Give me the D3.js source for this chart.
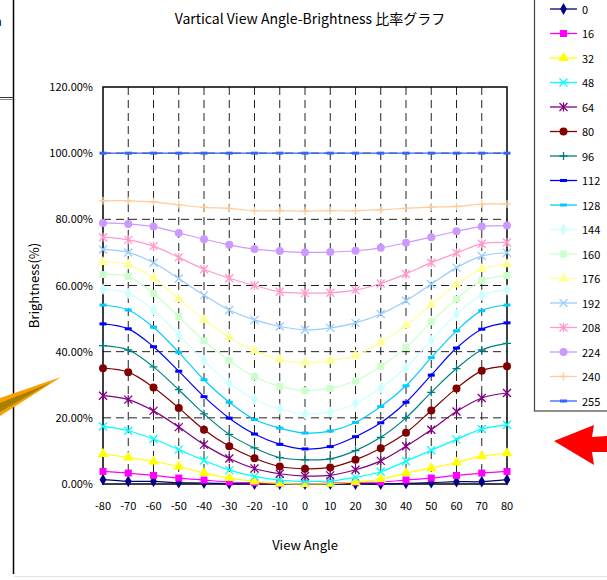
<!DOCTYPE html>
<html>
<head>
<meta charset="utf-8">
<script src="https://cdn.jsdelivr.net/npm/d3@7/dist/d3.min.js"></script>
<style>
  body { margin: 0; background: #fff; }
  svg { display: block; font-family: "Noto Sans CJK JP", "DejaVu Sans", sans-serif; }
</style>
</head>
<body>
<div id="chart"></div>
<script>
// view angles (x categories)
const angles = [-80, -70, -60, -50, -40, -30, -20, -10, 0, 10, 20, 30, 40, 50, 60, 70, 80];
const yTicks = [0, 20, 40, 60, 80, 100, 120];

// brightness ratio (%) per gray level
const g0   = [1.3, 0.8, 0.8, 0.4, 0.3, 0.1, 0, 0, 0, 0, 0, 0, 0.2, 0.4, 0.7, 0.7, 1.3];
const g16  = [3.8, 3.3, 2.6, 1.8, 1.2, 0.6, 0.4, 0.2, 0.1, 0.3, 0.5, 0.6, 1.2, 1.8, 2.6, 3.3, 3.8];
const g32  = [9.1, 8.0, 6.8, 5.3, 3.3, 1.8, 0.8, 0.2, 0, 0.1, 0.6, 1.5, 3.3, 4.8, 6.5, 8.4, 9.3];
const g48  = [17.4, 16.1, 13.6, 10.4, 7.1, 4.2, 2.3, 1.2, 0.8, 0.9, 2.0, 3.7, 6.9, 10.2, 13.5, 16.6, 17.9];
const g64  = [26.7, 25.5, 22.1, 17.2, 11.9, 7.7, 4.7, 3.1, 2.4, 2.6, 4.3, 7.0, 11.4, 16.4, 21.9, 26.0, 27.5];
const g80  = [35.0, 33.8, 29.2, 23.0, 16.4, 11.4, 7.8, 5.3, 4.6, 5.0, 7.3, 10.8, 15.5, 22.2, 28.9, 34.2, 35.6];
const g96  = [41.8, 40.5, 35.4, 28.5, 21.2, 15.0, 10.9, 8.0, 7.3, 7.6, 10.1, 14.1, 20.0, 27.7, 34.9, 40.5, 42.5];
const g112 = [48.4, 46.9, 41.5, 34.1, 26.4, 19.9, 15.1, 12.0, 10.6, 11.3, 14.3, 18.5, 24.7, 32.9, 41.1, 46.8, 48.7];
const g128 = [54.1, 52.6, 47.4, 39.8, 31.5, 24.7, 19.5, 16.9, 15.4, 16.0, 18.6, 23.4, 29.7, 38.2, 46.3, 52.4, 54.1];
const g144 = [58.9, 57.6, 52.6, 45.1, 37.3, 30.5, 25.6, 22.6, 21.2, 21.7, 24.4, 29.0, 35.2, 43.4, 51.4, 57.1, 58.7];
const g160 = [63.3, 62.7, 57.6, 50.6, 43.3, 37.3, 32.4, 29.5, 28.2, 28.9, 31.2, 35.6, 41.3, 49.0, 55.9, 61.5, 63.0];
const g176 = [67.1, 66.3, 62.3, 55.9, 49.6, 44.3, 40.3, 37.6, 36.7, 37.3, 38.8, 42.8, 47.9, 54.2, 60.3, 65.0, 66.4];
const g192 = [70.9, 70.0, 66.9, 62.1, 57.1, 52.6, 49.6, 47.6, 46.6, 47.2, 48.7, 51.4, 55.4, 60.4, 65.4, 68.9, 69.9];
const g208 = [74.6, 73.8, 71.9, 68.5, 64.9, 62.2, 60.0, 58.1, 57.7, 57.8, 58.6, 60.6, 63.5, 66.9, 69.8, 72.6, 73.0];
const g224 = [78.9, 78.6, 77.8, 75.9, 74.0, 72.3, 71.0, 70.4, 70.0, 70.1, 70.5, 71.4, 72.9, 74.6, 76.4, 77.8, 78.1];
const g240 = [85.6, 85.6, 85.3, 84.4, 83.6, 83.3, 82.6, 82.6, 82.5, 82.6, 82.6, 82.9, 83.3, 83.7, 83.9, 84.6, 84.6];
const g255 = [100, 100, 100, 100, 100, 100, 100, 100, 100, 100, 100, 100, 100, 100, 100, 100, 100];

const levels = ["0", "16", "32", "48", "64", "80", "96", "112", "128", "144", "160", "176", "192", "208", "224", "240", "255"];
const seriesValues = [g0, g16, g32, g48, g64, g80, g96, g112, g128, g144, g160, g176, g192, g208, g224, g240, g255];

const colors = ["#000080", "#ff00ff", "#ffff00", "#00ffff", "#800080", "#800000", "#008080", "#0000ff",
  "#00ccff", "#ccffff", "#ccffcc", "#ffff99", "#99ccff", "#ff99cc", "#cc99ff", "#ffcc99", "#3366ff"];
const markers = ["diamond", "square", "triangle", "x", "star", "circle", "plus", "dash",
  "dash", "diamond", "square", "triangle", "x", "star", "circle", "plus", "dash"];

const width = 607, height = 580;
const margin = { top: 87, left: 103, right: 100, bottom: 96 };

const svg = d3.select("#chart").append("svg")
  .attr("width", width)
  .attr("height", height);

const x = d3.scaleLinear().domain([-80, 80]).range([margin.left, width - margin.right]);
const y = d3.scaleLinear().domain([0, 120]).range([height - margin.bottom, margin.top]);

// ---- surrounding sheet decoration
svg.append("line").attr("x1", 13.5).attr("x2", 13.5).attr("y1", 0).attr("y2", 574)
  .attr("stroke", "#000").attr("stroke-width", 1.5);
svg.append("line").attr("x1", 0).attr("x2", 13).attr("y1", 97.5).attr("y2", 97.5)
  .attr("stroke", "#333").attr("stroke-width", 1);
svg.append("line").attr("x1", 0).attr("x2", 13).attr("y1", 99.5).attr("y2", 99.5)
  .attr("stroke", "#888").attr("stroke-width", 1);
svg.append("line").attr("x1", 14).attr("x2", width).attr("y1", 576.5).attr("y2", 576.5)
  .attr("stroke", "#e4e4e4");
// clipped cell text at the very left edge
svg.append("text").attr("x", -5).attr("y", 26).attr("font-size", 12).text("a");

// orange pointer on the left
svg.append("polygon").attr("points", "61,377 0,398 0,416").attr("fill", "#f7a000");
svg.append("polygon").attr("points", "50,383 0,403 0,412").attr("fill", "#a88000");

// red arrow on the right
svg.append("polygon")
  .attr("points", "554,441 594,425 592,437 607,436 607,452 592,452 594,465")
  .attr("fill", "#ff0000");

// ---- title
svg.append("text")
  .attr("x", 310).attr("y", 24)
  .attr("text-anchor", "middle")
  .attr("font-size", 14)
  .text("Vartical View Angle-Brightness 比率グラフ");

// ---- grid
const grid = svg.append("g");
grid.selectAll("line.v")
  .data(angles.filter(a => a > -80 && a < 80))
  .join("line")
  .attr("x1", d => x(d)).attr("x2", d => x(d))
  .attr("y1", y(120)).attr("y2", y(0))
  .attr("stroke", "#222").attr("stroke-dasharray", "8,5");
grid.selectAll("line.h")
  .data(yTicks.filter(t => t > 0 && t < 120))
  .join("line")
  .attr("x1", x(-80)).attr("x2", x(80))
  .attr("y1", d => y(d)).attr("y2", d => y(d))
  .attr("stroke", "#222").attr("stroke-dasharray", "8,5");

// frame
svg.append("rect")
  .attr("x", x(-80)).attr("y", y(120))
  .attr("width", x(80) - x(-80)).attr("height", y(0) - y(120))
  .attr("fill", "none").attr("stroke", "#000").attr("stroke-width", 1.5);

// ---- axes labels
svg.append("g").selectAll("text")
  .data(yTicks)
  .join("text")
  .attr("x", 93).attr("y", d => y(d) + 4)
  .attr("text-anchor", "end")
  .attr("font-size", 11)
  .text(d => d3.format(".2f")(d) + "%");

svg.append("g").selectAll("text")
  .data(angles)
  .join("text")
  .attr("x", d => x(d)).attr("y", 510)
  .attr("text-anchor", "middle")
  .attr("font-size", 11)
  .text(d => d < 0 ? "-" + Math.abs(d) : d);

svg.append("text")
  .attr("x", 305).attr("y", 550)
  .attr("text-anchor", "middle")
  .attr("font-size", 13)
  .text("View Angle");

svg.append("text")
  .attr("transform", `translate(39, ${(y(0) + y(120)) / 2}) rotate(-90)`)
  .attr("text-anchor", "middle")
  .attr("font-size", 13)
  .text("Brightness(%)");

// ---- series
function drawMarker(g, type, color) {
  if (type === "diamond") {
    g.append("path").attr("d", d3.symbol(d3.symbolDiamond, 40)()).attr("fill", color);
  } else if (type === "square") {
    g.append("rect").attr("x", -3.5).attr("y", -3.5).attr("width", 7).attr("height", 7).attr("fill", color);
  } else if (type === "triangle") {
    g.append("path").attr("d", d3.symbol(d3.symbolTriangle, 48)()).attr("fill", color);
  } else if (type === "circle") {
    g.append("circle").attr("r", 4).attr("fill", color);
  } else if (type === "x") {
    g.append("path").attr("d", "M-4,-4L4,4M-4,4L4,-4").attr("stroke", color).attr("stroke-width", 1.3);
  } else if (type === "star") {
    g.append("path").attr("d", "M-4,-4L4,4M-4,4L4,-4M0,-4.5L0,4.5").attr("stroke", color).attr("stroke-width", 1.3);
  } else if (type === "plus") {
    g.append("path").attr("d", "M-4,0L4,0M0,-4L0,4").attr("stroke", color).attr("stroke-width", 1.3);
  } else if (type === "dash") {
    g.append("rect").attr("x", -3.5).attr("y", -1.5).attr("width", 7).attr("height", 3).attr("fill", color);
  }
}

const line = d3.line()
  .x((d, i) => x(angles[i]))
  .y(d => y(d))
  .curve(d3.curveCatmullRom.alpha(0.5));

seriesValues.forEach((vals, si) => {
  const g = svg.append("g");
  g.append("path")
    .datum(vals)
    .attr("d", line)
    .attr("fill", "none")
    .attr("stroke", colors[si])
    .attr("stroke-width", 1.2);
  vals.forEach((v, i) => {
    const m = g.append("g").attr("transform", `translate(${x(angles[i])},${y(v)})`);
    drawMarker(m, markers[si], colors[si]);
  });
});

// ---- legend
const legend = svg.append("g");
legend.append("rect")
  .attr("x", 534.5).attr("y", -5)
  .attr("width", 90).attr("height", 416)
  .attr("fill", "#fff").attr("stroke", "#444").attr("stroke-width", 1.2);

levels.forEach((lv, i) => {
  const ly = 9 + i * 24.5;
  const item = legend.append("g").attr("transform", `translate(0, ${ly})`);
  item.append("line").attr("x1", 550).attr("x2", 577).attr("y1", 0).attr("y2", 0)
    .attr("stroke", colors[i]).attr("stroke-width", 1.3);
  drawMarker(item.append("g").attr("transform", "translate(563.5,0)"), markers[i], colors[i]);
  item.append("text").attr("x", 582).attr("y", 4.5)
    .attr("font-size", 11)
    .text(lv);
});
</script>
</body>
</html>
